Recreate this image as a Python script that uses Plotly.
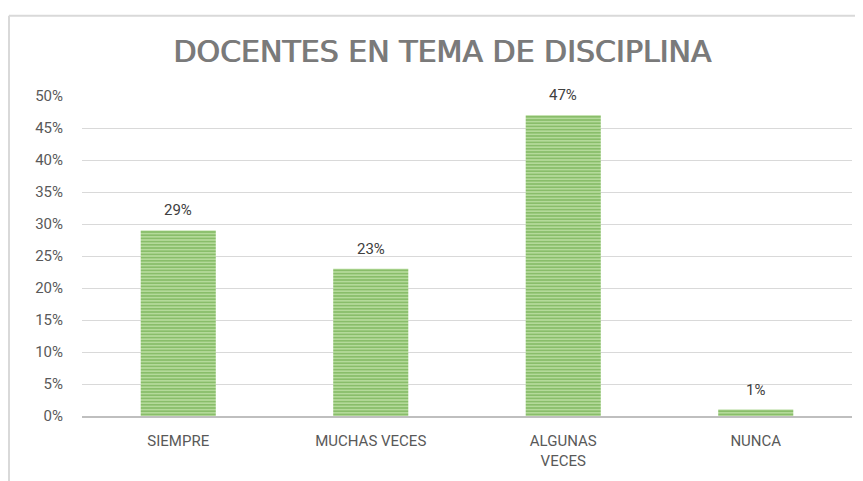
import plotly.graph_objects as go

categories = ["SIEMPRE", "MUCHAS VECES", "ALGUNAS<br>VECES", "NUNCA"]
values = [0.29, 0.23, 0.47, 0.01]
value_labels = ["29%", "23%", "47%", "1%"]
y_ticks = [0, 0.05, 0.10, 0.15, 0.20, 0.25, 0.30, 0.35, 0.40, 0.45, 0.50]
y_tick_labels = ["0%", "5%", "10%", "15%", "20%", "25%", "30%", "35%", "40%", "45%", "50%"]
title = "DOCENTES EN TEMA DE DISCIPLINA"

# the page places the figure 8px from the top-left corner
OFF = 8
W, H = 863 - OFF, 481 - OFF
ML, MT = 82 - OFF, 96 - OFF
MR = W - (852 - OFF)
MB = H - (419 - OFF)
PW, PH = W - ML - MR, H - MT - MB

fig = go.Figure()
fig.add_trace(go.Bar(
    x=categories, y=values, width=0.39,
    marker=dict(
        color="#8cc168",
        line=dict(width=0),
        pattern=dict(shape="-", fgcolor="#5a9e35", bgcolor="#b8dd9f", size=3.2, solidity=0.55),
    ),
    hoverinfo="skip",
))

for c, v, t in zip(categories, values, value_labels):
    fig.add_annotation(x=c, y=v, text=t, showarrow=False, yanchor="bottom", yshift=9,
                       font=dict(family="Roboto, Liberation Sans", size=15, color="#404040"))

# chart border (left and top)
bx = (1 - ML) / PW
by = 1 + (MT - 7) / PH
fig.add_shape(type="line", xref="paper", yref="paper", x0=bx, x1=bx, y0=-0.3, y1=by,
              line=dict(color="#d9d9d9", width=2))
fig.add_shape(type="line", xref="paper", yref="paper", x0=bx, x1=1.05, y0=by, y1=by,
              line=dict(color="#d9d9d9", width=2))

fig.update_layout(
    width=W, height=H,
    margin=dict(l=ML, r=MR, t=MT, b=MB),
    paper_bgcolor="white", plot_bgcolor="white",
    showlegend=False,
    title=dict(text=title, x=(442 - OFF) / W, xanchor="center", y=1 - (51 - OFF) / H, yanchor="middle",
               font=dict(family="DejaVu Sans", size=30, color="#7a7a7a",
                         shadow="1px 0px 0px #7a7a7a")),
    xaxis=dict(showgrid=False, showline=True, linecolor="#bfbfbf", linewidth=2,
               tickfont=dict(family="Roboto, Liberation Sans", size=15, color="#595959"),
               ticks="", ticklabelstandoff=10, fixedrange=True),
    yaxis=dict(range=[0, 0.5], tickvals=y_ticks, ticktext=y_tick_labels,
               showgrid=True, gridcolor="#d9d9d9", gridwidth=1, zeroline=False,
               tickfont=dict(family="Roboto, Liberation Sans", size=15, color="#595959"),
               ticks="", ticklabelstandoff=18, fixedrange=True),
    bargap=0.61,
)

fig.write_html("out.html")
